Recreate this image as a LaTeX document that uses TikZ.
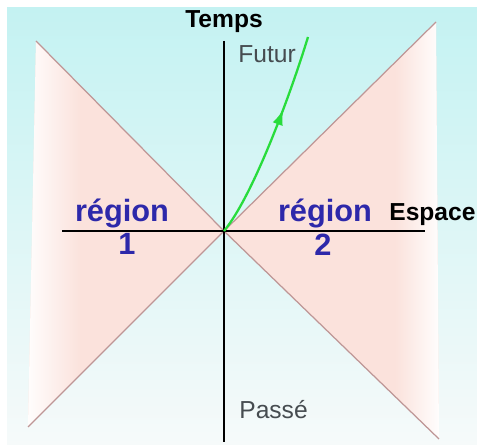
\documentclass[tikz,border=0pt]{standalone}
\usepackage{fontspec}
\setmainfont{Liberation Sans}
\usetikzlibrary{arrows.meta,decorations.markings}
\definecolor{ciel}{RGB}{196,242,242}
\definecolor{fond}{RGB}{246,250,250}
\definecolor{rose}{RGB}{251,226,220}
\definecolor{bordcone}{RGB}{190,150,150}
\definecolor{vert}{RGB}{40,220,60}
\definecolor{bleureg}{RGB}{45,40,170}
\definecolor{gristxt}{RGB}{70,76,80}

\begin{document}
\begin{tikzpicture}[x=0.02cm,y=0.02cm,
    axe/.style={line width=1.2pt},
    cone/.style={bordcone, line width=0.7pt},
    region/.style={text=bleureg, font=\bfseries\fontsize{17.5}{20}\selectfont, inner sep=0pt, anchor=base},
    titre/.style={font=\bfseries\fontsize{14}{16}\selectfont, inner sep=0pt},
    etiq/.style={text=gristxt, font=\fontsize{14}{16}\selectfont, inner sep=0pt, anchor=base west}]

    \useasboundingbox (0,0) rectangle (477,445);

    % Fond
    \shade[top color=ciel, bottom color=fond] (7,0) rectangle (477,437);

    % Points de repere
    \coordinate (O) at (224,214);
    \coordinate (haut) at (224,404);
    \coordinate (bas) at (224,3);
    \coordinate (gauche) at (62,214);
    \coordinate (droite) at (425,214);
    \coordinate (HG) at (36,404);
    \coordinate (HD) at (436,423);
    \coordinate (BG) at (28,18);
    \coordinate (BD) at (439,6);
    \coordinate (W) at (308,408);

    % Regions hors du cone
    \fill[rose] (HG) -- (O) -- (BG) -- cycle;
    \fill[rose] (HD) -- (O) -- (BD) -- cycle;
    % fondu vers le blanc sur les bords
    \begin{scope}
        \clip (HG) -- (O) -- (BG) -- cycle;
        \shade[left color=white, right color=rose] (24,0) rectangle (80,445);
    \end{scope}
    \begin{scope}
        \clip (HD) -- (O) -- (BD) -- cycle;
        \shade[left color=rose, right color=white] (395,0) rectangle (442,445);
    \end{scope}

    % Bords du cone de lumiere
    \draw[cone] (HG) -- (O) -- (BD);
    \draw[cone] (HD) -- (O) -- (BG);

    % Axes
    \draw[axe] (haut) -- (bas);
    \draw[axe] (gauche) -- (droite);

    % Ligne d'univers
    \draw[vert, line width=1.3pt, postaction={decorate},
        decoration={markings, mark=at position 0.64 with {\arrow{Latex[length=9pt,width=6pt]}}}]
        (O) .. controls (253,249) and (290.5,350.6) .. (W);

    % Textes
    \node[titre, anchor=base] (temps) at (224,417) {Temps};
    \node[titre, anchor=base west] (espace) at (389,224) {Espace};
    \node[etiq] (futur) at (238,382) {Futur};
    \node[etiq] (passe) at (239,26) {Passé};
    \node[region] (reg1) at (122,223) {région};
    \node[region] (num1) at (127,190) {1};
    \node[region] (reg2) at (325,223) {région};
    \node[region] (num2) at (323,189) {2};

\end{tikzpicture}
\end{document}
